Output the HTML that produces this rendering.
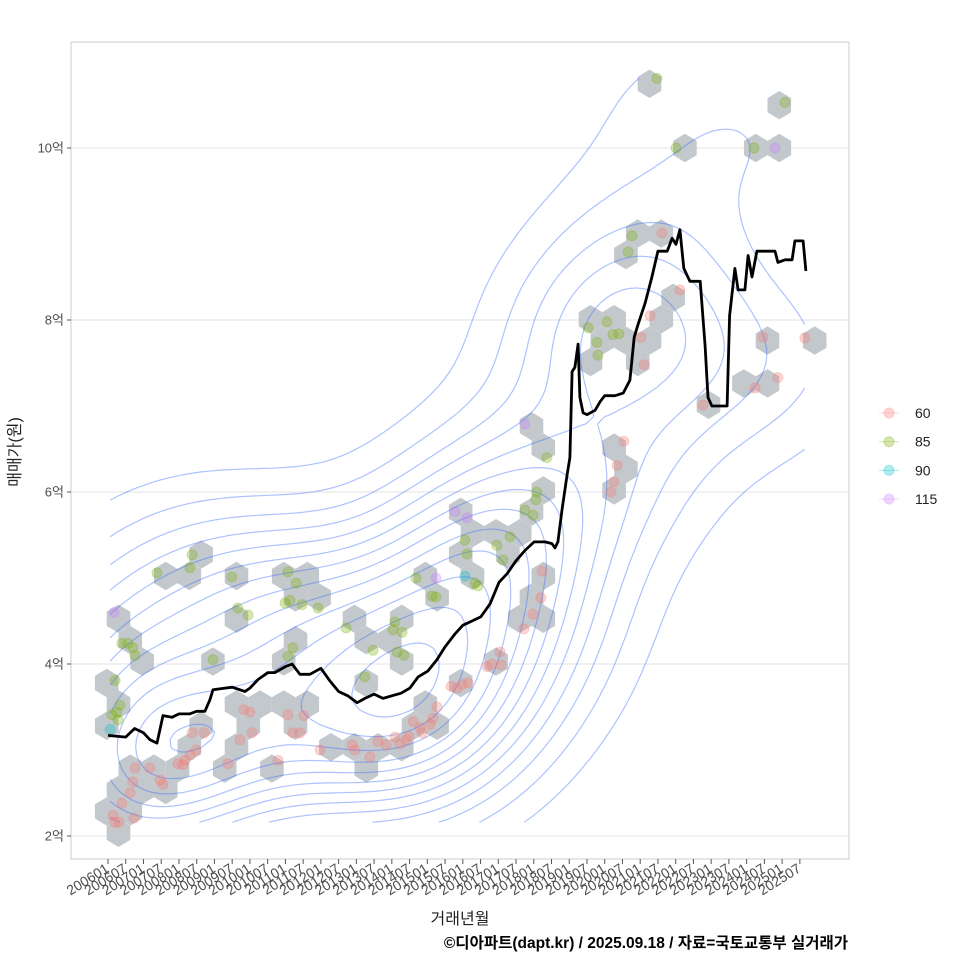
<!DOCTYPE html>
<html><head><meta charset="utf-8">
<style>
body{margin:0;background:#fff;}
svg{display:block;font-family:"Liberation Sans","Noto Sans CJK KR",sans-serif;}
</style></head>
<body>
<svg id="chart" width="960" height="960" viewBox="0 0 960 960">
<rect x="0" y="0" width="960" height="960" fill="#fff"/>
<g id="grid"></g>
<g id="hexes"></g>
<g id="contours"></g>
<g id="points"></g>
<g id="line"></g>
<rect x="71" y="42" width="778" height="817" fill="none" stroke="#cccccc" stroke-width="1"/>
<g id="yaxis"></g>
<g id="xaxis"></g>
<text x="20" y="452" transform="rotate(-90 20 452)" text-anchor="middle" font-size="16" fill="#222">매매가(원)</text>
<text x="460" y="924" text-anchor="middle" font-size="16" fill="#222">거래년월</text>
<text x="848" y="948" text-anchor="end" font-size="15.5" font-weight="bold" fill="#000">©디아파트(dapt.kr) / 2025.09.18 / 자료=국토교통부 실거래가</text>
<g id="legend"></g>
</svg>
<script>
// ---- data ----
const typeNames = ["60","85","90","115"];
const typeColors = ["#F8766D","#7CAE00","#00BFC4","#C77CFF"];
const pts60 = [[2006.14,2.24],[2006.20,2.16],[2006.31,2.16],[2006.73,2.21],[2006.39,2.38],[2006.62,2.50],[2006.76,2.79],[2006.70,2.63],[2007.18,2.79],[2007.47,2.65],[2007.55,2.60],[2007.97,2.84],[2008.17,2.88],[2008.31,2.94],[2008.11,2.83],[2008.48,3.00],[2008.37,3.20],[2008.71,3.20],[2009.38,2.84],[2009.72,3.12],[2010.06,3.20],[2009.83,3.47],[2010.00,3.44],[2010.79,2.88],[2011.07,3.41],[2011.21,3.20],[2011.41,3.20],[2011.52,3.40],[2011.98,3.00],[2012.88,3.06],[2012.96,3.00],[2013.38,2.92],[2013.61,3.10],[2013.84,3.06],[2014.09,3.15],[2014.23,3.07],[2014.40,3.12],[2014.48,3.16],[2014.60,3.33],[2014.79,3.26],[2014.85,3.20],[2015.08,3.30],[2015.16,3.37],[2015.27,3.50],[2015.67,3.74],[2015.84,3.72],[2015.98,3.76],[2016.15,3.78],[2016.68,3.97],[2016.82,4.00],[2017.05,4.14],[2017.08,3.99],[2017.72,4.41],[2017.98,4.58],[2018.20,4.77],[2018.23,5.08],[2020.18,6.00],[2020.26,6.12],[2020.35,6.31],[2020.54,6.59],[2021.02,7.80],[2021.11,7.48],[2021.28,8.05],[2022.12,8.35],[2021.61,9.01],[2022.77,7.01],[2024.24,7.21],[2024.46,7.80],[2024.88,7.33],[2025.64,7.79]];
const pts85 = [[2006.20,3.81],[2006.11,3.41],[2006.25,3.44],[2006.28,3.35],[2006.34,3.52],[2006.39,4.24],[2006.56,4.24],[2006.70,4.19],[2006.76,4.10],[2007.38,5.06],[2008.37,5.27],[2008.31,5.12],[2009.49,5.01],[2009.66,4.65],[2009.95,4.57],[2008.96,4.05],[2011.07,5.07],[2011.30,4.94],[2011.47,4.69],[2011.13,4.74],[2010.99,4.71],[2011.21,4.19],[2011.07,4.09],[2011.92,4.65],[2012.71,4.42],[2013.47,4.16],[2013.24,3.85],[2014.09,4.49],[2014.03,4.40],[2014.29,4.37],[2014.15,4.14],[2014.34,4.10],[2014.68,5.00],[2015.13,4.79],[2015.24,4.78],[2016.06,5.44],[2016.12,5.28],[2016.34,4.94],[2016.43,4.91],[2016.96,5.38],[2017.13,5.21],[2017.33,5.48],[2017.75,5.79],[2017.98,5.73],[2018.06,5.91],[2018.09,6.00],[2018.37,6.40],[2019.53,7.91],[2019.78,7.74],[2019.81,7.59],[2020.06,7.98],[2020.23,7.83],[2020.40,7.84],[2020.66,8.79],[2020.77,8.98],[2021.47,10.81],[2022.01,10.00],[2024.21,10.00],[2025.08,10.53]];
const pts90 = [[2006.06,3.24],[2016.06,5.02]];
const pts115 = [[2006.17,4.60],[2017.75,6.79],[2015.78,5.77],[2016.12,5.70],[2015.24,5.00],[2024.80,10.00]];
const medianYears = [2006.0,2006.5,2006.75,2007.0,2007.18,2007.38,2007.55,2007.8,2008.0,2008.3,2008.5,2008.73,2008.87,2008.96,2009.3,2009.5,2009.86,2010.0,2010.23,2010.5,2010.7,2011.0,2011.19,2011.41,2011.69,2012.0,2012.26,2012.5,2012.76,2013.02,2013.24,2013.5,2013.75,2014.0,2014.26,2014.51,2014.74,2015.02,2015.27,2015.5,2015.78,2016.0,2016.26,2016.51,2016.77,2017.02,2017.25,2017.5,2017.75,2018.01,2018.32,2018.51,2018.6,2018.68,2018.8,2018.94,2019.02,2019.08,2019.16,2019.25,2019.3,2019.39,2019.5,2019.73,2019.87,2020.0,2020.29,2020.52,2020.71,2020.83,2020.94,2021.14,2021.33,2021.5,2021.76,2021.9,2022.01,2022.12,2022.23,2022.4,2022.69,2022.83,2022.91,2023.02,2023.45,2023.52,2023.67,2023.76,2023.95,2024.04,2024.15,2024.29,2024.8,2024.88,2025.08,2025.28,2025.36,2025.59,2025.67];
const medianValues = [3.17,3.15,3.25,3.2,3.12,3.08,3.4,3.38,3.42,3.42,3.45,3.45,3.58,3.7,3.72,3.73,3.68,3.72,3.82,3.9,3.9,3.97,4.0,3.88,3.88,3.95,3.8,3.68,3.63,3.55,3.6,3.65,3.6,3.63,3.66,3.72,3.85,3.92,4.05,4.2,4.35,4.45,4.5,4.55,4.7,4.95,5.05,5.2,5.32,5.42,5.42,5.4,5.35,5.42,5.8,6.2,6.4,7.4,7.45,7.72,7.1,6.92,6.9,6.95,7.05,7.12,7.12,7.15,7.3,7.8,7.95,8.2,8.5,8.8,8.8,8.95,8.88,9.05,8.6,8.45,8.45,7.7,7.1,7.0,7.0,8.05,8.6,8.35,8.35,8.75,8.5,8.8,8.8,8.67,8.7,8.7,8.92,8.92,8.57];
const yTicks = [2,4,6,8,10];
const yTickLabels = ["2억","4억","6억","8억","10억"];
const xTickLabels = ["200601","200607","200701","200707","200801","200807","200901","200907","201001","201007","201101","201107","201201","201207","201301","201307","201401","201407","201501","201507","201601","201607","201701","201707","201801","201807","201901","201907","202001","202007","202101","202107","202201","202207","202301","202307","202401","202407","202501","202507"];

// ---- scales ----
const NS="http://www.w3.org/2000/svg";
function X(yr){return 108+(yr-2006)*35.48;}
function Y(v){return 836-(v-2)*86;}
function mk(tag,attrs,parent){const e=document.createElementNS(NS,tag);for(const k in attrs)e.setAttribute(k,attrs[k]);parent.appendChild(e);return e;}
const gGrid=document.getElementById('grid'),gHex=document.getElementById('hexes'),gCon=document.getElementById('contours'),gPts=document.getElementById('points'),gLine=document.getElementById('line'),gY=document.getElementById('yaxis'),gX=document.getElementById('xaxis'),gLeg=document.getElementById('legend');

yTicks.forEach((t,i)=>{
  const l=mk('line',{x1:71,x2:849,y1:Y(t),y2:Y(t),stroke:'#e3e3e3','stroke-width':1},gGrid);
  
  
  const tk=mk('line',{x1:67,x2:71,y1:Y(t),y2:Y(t),stroke:'#555'},gY);
  
  
  const tx=mk('text',{x:64,y:Y(t)+4.5,'text-anchor':'end','font-size':13,fill:'#4d4d4d'},gY);
  tx.textContent=yTickLabels[i];
  
  
});
xTickLabels.forEach((lab,i)=>{
  const yr=2006+Math.floor(i/2)+(i%2?0.5:0);
  const x=X(yr);
  const tk=mk('line',{x1:x,x2:x,y1:859,y2:864,stroke:'#555'},gX);
  
  
  const tx=mk('text',{x:x+2,y:871,'text-anchor':'end','font-size':14,fill:'#4d4d4d',transform:`rotate(-32 ${x+2} 871)`},gX);
  tx.textContent=lab;
  
  
});

const allSets=[pts60,pts85,pts90,pts115];
const HX0=755.7,HY0=148,DX=23.6,DY=21.4,RV=14.2,RH=11.8;
const bins={};
allSets.forEach(set=>set.forEach(p=>{
  const px=X(p[0]),py=Y(p[1]);
  const r0=Math.floor((py-HY0)/DY);
  let best=null,bd=1e9;
  for(let r=r0;r<=r0+1;r++){
    const off=(Math.abs(r)%2)?0.5:0;
    const c=Math.round((px-HX0)/DX-off);
    const cx=HX0+(c+off)*DX,cy=HY0+r*DY;
    const d=(cx-px)**2+(cy-py)**2;
    if(d<bd){bd=d;best=[cx,cy];}
  }
  bins[best[0].toFixed(1)+','+best[1].toFixed(1)]=best;
}));
Object.values(bins).forEach(b=>{
  const [cx,cy]=b;
  const pts=[[cx,cy-RV],[cx+RH,cy-RV/2],[cx+RH,cy+RV/2],[cx,cy+RV],[cx-RH,cy+RV/2],[cx-RH,cy-RV/2]].map(q=>q.join(',')).join(' ');
  const h=mk('polygon',{points:pts,fill:'#c3c8cd'},gHex);
  
  
});

const xs=[],ys=[];
allSets.forEach(s=>s.forEach(p=>{xs.push(p[0]);ys.push(p[1]);}));
function quant(a,q){const s=[...a].sort((u,v)=>u-v);const h=(s.length-1)*q;const lo=Math.floor(h);return s[lo]+(s[Math.min(lo+1,s.length-1)]-s[lo])*(h-lo);}
function bw(a){const n=a.length;const m=a.reduce((u,v)=>u+v,0)/n;const sd=Math.sqrt(a.reduce((u,v)=>u+(v-m)**2,0)/(n-1));const iqr=(quant(a,.75)-quant(a,.25))/1.34;return 4*1.06*Math.min(sd,iqr)*Math.pow(n,-0.2);}
const hx=bw(xs)/4,hy=bw(ys)/4;
const N=100;
const xmin=Math.min(...xs),xmax=Math.max(...xs),ymin=Math.min(...ys),ymax=Math.max(...ys);
const gx=[],gy=[];
for(let i=0;i<N;i++){gx.push(xmin+(xmax-xmin)*i/(N-1));gy.push(ymin+(ymax-ymin)*i/(N-1));}
const Z=[];let zmax=0;
for(let j=0;j<N;j++){Z.push([]);for(let i=0;i<N;i++){let s=0;for(let k=0;k<xs.length;k++){const a=(gx[i]-xs[k])/hx,b=(gy[j]-ys[k])/hy;s+=Math.exp(-0.5*(a*a+b*b));}Z[j].push(s);if(s>zmax)zmax=s;}}
function nice(v){const e=Math.pow(10,Math.floor(Math.log10(v)));const f=v/e;return (f<1.5?1:f<3?2:f<7?5:10)*e;}
const step=nice(zmax/10);
let d='';
function interp(a,b,va,vb,lv){const t=(lv-va)/(vb-va);return [a[0]+(b[0]-a[0])*t,a[1]+(b[1]-a[1])*t];}
for(let lv=step;lv<zmax;lv+=step){
  for(let j=0;j<N-1;j++)for(let i=0;i<N-1;i++){
    const v=[Z[j][i],Z[j][i+1],Z[j+1][i+1],Z[j+1][i]];
    const c=[[X(gx[i]),Y(gy[j])],[X(gx[i+1]),Y(gy[j])],[X(gx[i+1]),Y(gy[j+1])],[X(gx[i]),Y(gy[j+1])]];
    const e=[];
    for(let k=0;k<4;k++){const a=v[k],b=v[(k+1)%4];if((a<lv)!==(b<lv))e.push(interp(c[k],c[(k+1)%4],a,b,lv));}
    for(let k=0;k+1<e.length;k+=2)d+=`M${e[k][0].toFixed(1)},${e[k][1].toFixed(1)}L${e[k+1][0].toFixed(1)},${e[k+1][1].toFixed(1)}`;
  }
}
const cp=mk('path',{d:d,fill:'none',stroke:'#3366FF','stroke-opacity':0.4,'stroke-width':1.2},gCon);



allSets.forEach((set,si)=>set.forEach(p=>{
  const c=mk('circle',{cx:X(p[0]),cy:Y(p[1]),r:5,fill:typeColors[si],'fill-opacity':0.3,stroke:typeColors[si],'stroke-opacity':0.3},gPts);
  
  
}));

const ld=medianYears.map((yr,i)=>(i?'L':'M')+X(yr).toFixed(1)+','+Y(medianValues[i]).toFixed(1)).join('');
const ml=mk('path',{d:ld,fill:'none',stroke:'#000','stroke-width':2.8,'stroke-linejoin':'round'},gLine);



typeNames.forEach((nm,i)=>{
  const y=413+i*28.7;
  const g=mk('g',{},gLeg);
  
  
  mk('line',{x1:879,x2:899,y1:y,y2:y,stroke:typeColors[i],'stroke-opacity':0.3,'stroke-width':1},g);
  mk('circle',{cx:889,cy:y,r:5,fill:typeColors[i],'fill-opacity':0.3,stroke:typeColors[i],'stroke-opacity':0.3},g);
  const t=mk('text',{x:915,y:y+5,'font-size':14,fill:'#222'},g);
  t.textContent=nm;
});
</script>
</body></html>
